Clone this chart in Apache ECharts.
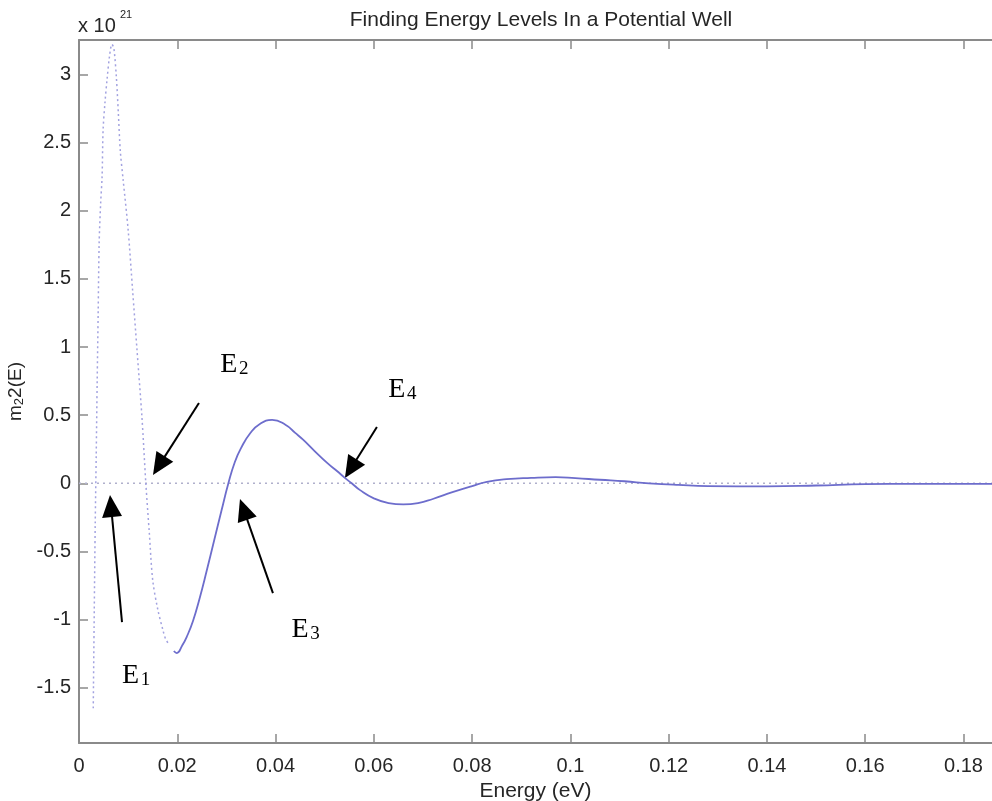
<!DOCTYPE html>
<html>
<head>
<meta charset="utf-8">
<script src="https://cdn.jsdelivr.net/npm/echarts@6.0.0/dist/echarts.min.js"></script>
<style>
html,body{margin:0;padding:0;background:#fff;}
#chart{width:992px;height:801px;}
</style>
</head>
<body>
<div id="chart"></div>
<script>
// ---- data ----
const TITLE = 'Finding Energy Levels In a Potential Well';
const X_NAME = 'Energy (eV)';
const xTicks = [0, 0.02, 0.04, 0.06, 0.08, 0.1, 0.12, 0.14, 0.16, 0.18];
const yTicks = [-1.5, -1, -0.5, 0, 0.5, 1, 1.5, 2, 2.5, 3];
const X_MIN = 0, X_MAX = 0.1858;
const Y_MIN = -1.905, Y_MAX = 3.252;

// first (coarse, dotted) part of m2(E), units of 1e21
const dottedE = [0.0029,0.0031,0.0033,0.0035,0.0037,0.0039,0.0041,0.0044,0.0047,0.0049,0.0053,0.0057,0.0062,0.0067,0.0071,0.0076,0.0080,0.0084,0.0090,0.0100,0.0109,0.0118,0.0128,0.0136,0.0143,0.0150,0.0160,0.0171,0.0176,0.0181];
const dottedM = [-1.65,-0.95,-0.30,0.20,0.75,1.25,1.76,2.05,2.25,2.59,2.80,2.96,3.13,3.22,3.19,2.98,2.72,2.44,2.22,1.86,1.42,0.98,0.49,0.00,-0.36,-0.71,-0.92,-1.08,-1.14,-1.17];

// second (fine, solid) part
const solidE = [0.0193,0.0199,0.0210,0.0220,0.0232,0.0245,0.0260,0.0275,0.0290,0.0304,0.0317,0.0330,0.0348,0.0368,0.0393,0.0420,0.0440,0.0456,0.0480,0.0505,0.0525,0.0541,0.0555,0.0572,0.0600,0.0630,0.0660,0.0690,0.0720,0.0760,0.0800,0.0830,0.0870,0.0920,0.0970,0.1010,0.1060,0.1110,0.1160,0.1220,0.1280,0.1400,0.1500,0.1600,0.1700,0.1858];
const solidM = [-1.23,-1.245,-1.19,-1.12,-1.01,-0.85,-0.64,-0.42,-0.20,0.00,0.155,0.26,0.365,0.435,0.465,0.43,0.37,0.32,0.235,0.15,0.09,0.04,0.00,-0.05,-0.11,-0.145,-0.155,-0.145,-0.115,-0.065,-0.02,0.01,0.03,0.04,0.045,0.038,0.026,0.015,0.00,-0.012,-0.02,-0.022,-0.016,-0.006,-0.004,-0.004];

const zeroE = [0, 0.1858];
const zeroM = [0, 0];

// annotations: label, subscript, label centre (data), arrow tail (data), arrow tip (data)
const annLabels = ['E','E','E','E'];
const annSubs = ['1','2','3','4'];
const annPos = [[0.0113,-1.41],[0.0313,0.87],[0.0458,-1.075],[0.0655,0.685]];
const annTail = [[0.00875,-1.018],[0.02441,0.589],[0.03947,-0.805],[0.06063,0.413]];
const annTip = [[0.00631,-0.086],[0.01506,0.061],[0.03276,-0.115],[0.05412,0.039]];

// ---- chart ----
const zip = (a, b) => a.map((v, i) => [v, b[i]]);
const axisGrey = '#8a8a8a';
const textCol = '#262626';
const sans = 'Liberation Sans, Arial, Helvetica, sans-serif';
const serif = 'Liberation Serif, Times New Roman, serif';

const chart = echarts.init(document.getElementById('chart'), null, {renderer: 'canvas'});

const xFmt = v => String(Math.round(v * 100) / 100);

chart.setOption({
  animation: false,
  backgroundColor: '#ffffff',
  title: {
    text: TITLE, left: 536, top: 5, textAlign: 'center',
    textStyle: {fontSize: 21, fontWeight: 'normal', color: textCol, fontFamily: sans}
  },
  grid: {left: 79, right: 0, top: 40, bottom: 58, outerBoundsMode: 'none', containLabel: false},
  xAxis: [{
    type: 'value', min: X_MIN, max: X_MAX, position: 'bottom',
    axisLine: {show: true, onZero: false, lineStyle: {color: axisGrey, width: 2}},
    axisTick: {show: true, inside: true, length: 9, customValues: xTicks, lineStyle: {color: axisGrey, width: 1.5}},
    axisLabel: {customValues: xTicks, formatter: xFmt, margin: 13, fontSize: 20, color: textCol, fontFamily: sans},
    splitLine: {show: false},
    name: X_NAME, nameLocation: 'middle', nameGap: 37,
    nameTextStyle: {fontSize: 21, color: textCol, fontFamily: sans}
  }, {
    type: 'value', min: X_MIN, max: X_MAX, position: 'top',
    axisLine: {show: true, onZero: false, lineStyle: {color: axisGrey, width: 2}},
    axisTick: {show: true, inside: true, length: 9, customValues: xTicks, lineStyle: {color: axisGrey, width: 1.5}},
    axisLabel: {show: false},
    splitLine: {show: false}
  }],
  yAxis: {
    type: 'value', min: Y_MIN, max: Y_MAX,
    axisLine: {show: true, onZero: false, lineStyle: {color: axisGrey, width: 2}},
    axisTick: {show: true, inside: true, length: 9, customValues: yTicks, lineStyle: {color: axisGrey, width: 1.5}},
    axisLabel: {customValues: yTicks, margin: 8, fontSize: 20, color: textCol, fontFamily: sans},
    splitLine: {show: false},
    name: '{a|m}{b|2}{a|2(E)}', nameLocation: 'middle', nameGap: 46, nameRotate: 90,
    nameTextStyle: {
      color: textCol, fontFamily: sans,
      rich: {
        a: {fontSize: 19, color: textCol, fontFamily: sans, verticalAlign: 'bottom', lineHeight: 24},
        b: {fontSize: 13, color: textCol, fontFamily: sans, verticalAlign: 'bottom', lineHeight: 24}
      }
    }
  },
  series: [{
    type: 'line', data: zip(zeroE, zeroM), symbol: 'none', silent: true,
    lineStyle: {color: '#b0b0cc', width: 1.6, type: [2, 4]}
  }, {
    type: 'line', data: zip(dottedE, dottedM), symbol: 'none', smooth: 0.3,
    lineStyle: {color: '#a2a2e0', width: 1.5, type: [2, 3]}
  }, {
    type: 'line', data: zip(solidE, solidM), symbol: 'none', smooth: 0.5,
    lineStyle: {color: '#6d6dcc', width: 1.8}
  }]
});

// annotations anchored to data coordinates
const toPx = p => chart.convertToPixel({xAxisIndex: 0, yAxisIndex: 0}, p);
const graphics = [];
for (let i = 0; i < annTip.length; i++) {
  const t = toPx(annTail[i]), h = toPx(annTip[i]);
  const dx = h[0] - t[0], dy = h[1] - t[1];
  const len = Math.hypot(dx, dy), ux = dx / len, uy = dy / len;
  const headLen = 22, halfW = 10;
  const bx = h[0] - ux * headLen, by = h[1] - uy * headLen;
  graphics.push({type: 'line', shape: {x1: t[0], y1: t[1], x2: bx + ux * 2, y2: by + uy * 2},
    style: {stroke: '#000', lineWidth: 2}, silent: true});
  graphics.push({type: 'polygon', shape: {points: [[h[0], h[1]], [bx - uy * halfW, by + ux * halfW], [bx + uy * halfW, by - ux * halfW]]},
    style: {fill: '#000'}, silent: true});
  const c = toPx(annPos[i]);
  graphics.push({type: 'text', x: c[0] - 4, y: c[1], silent: true,
    style: {text: annLabels[i], font: '28px ' + serif, fill: '#000', align: 'center', verticalAlign: 'middle'}});
  graphics.push({type: 'text', x: c[0] + 11, y: c[1] + 4, silent: true,
    style: {text: annSubs[i], font: '19px ' + serif, fill: '#000', align: 'center', verticalAlign: 'middle'}});
}
// exponent label
graphics.push({type: 'text', x: 78, y: 16, silent: true,
  style: {text: 'x 10', font: '20px ' + sans, fill: textCol, align: 'left', verticalAlign: 'top'}});
graphics.push({type: 'text', x: 120, y: 9, silent: true,
  style: {text: '21', font: '11px ' + sans, fill: textCol, align: 'left', verticalAlign: 'top'}});
chart.setOption({graphic: graphics});
</script>
</body>
</html>
